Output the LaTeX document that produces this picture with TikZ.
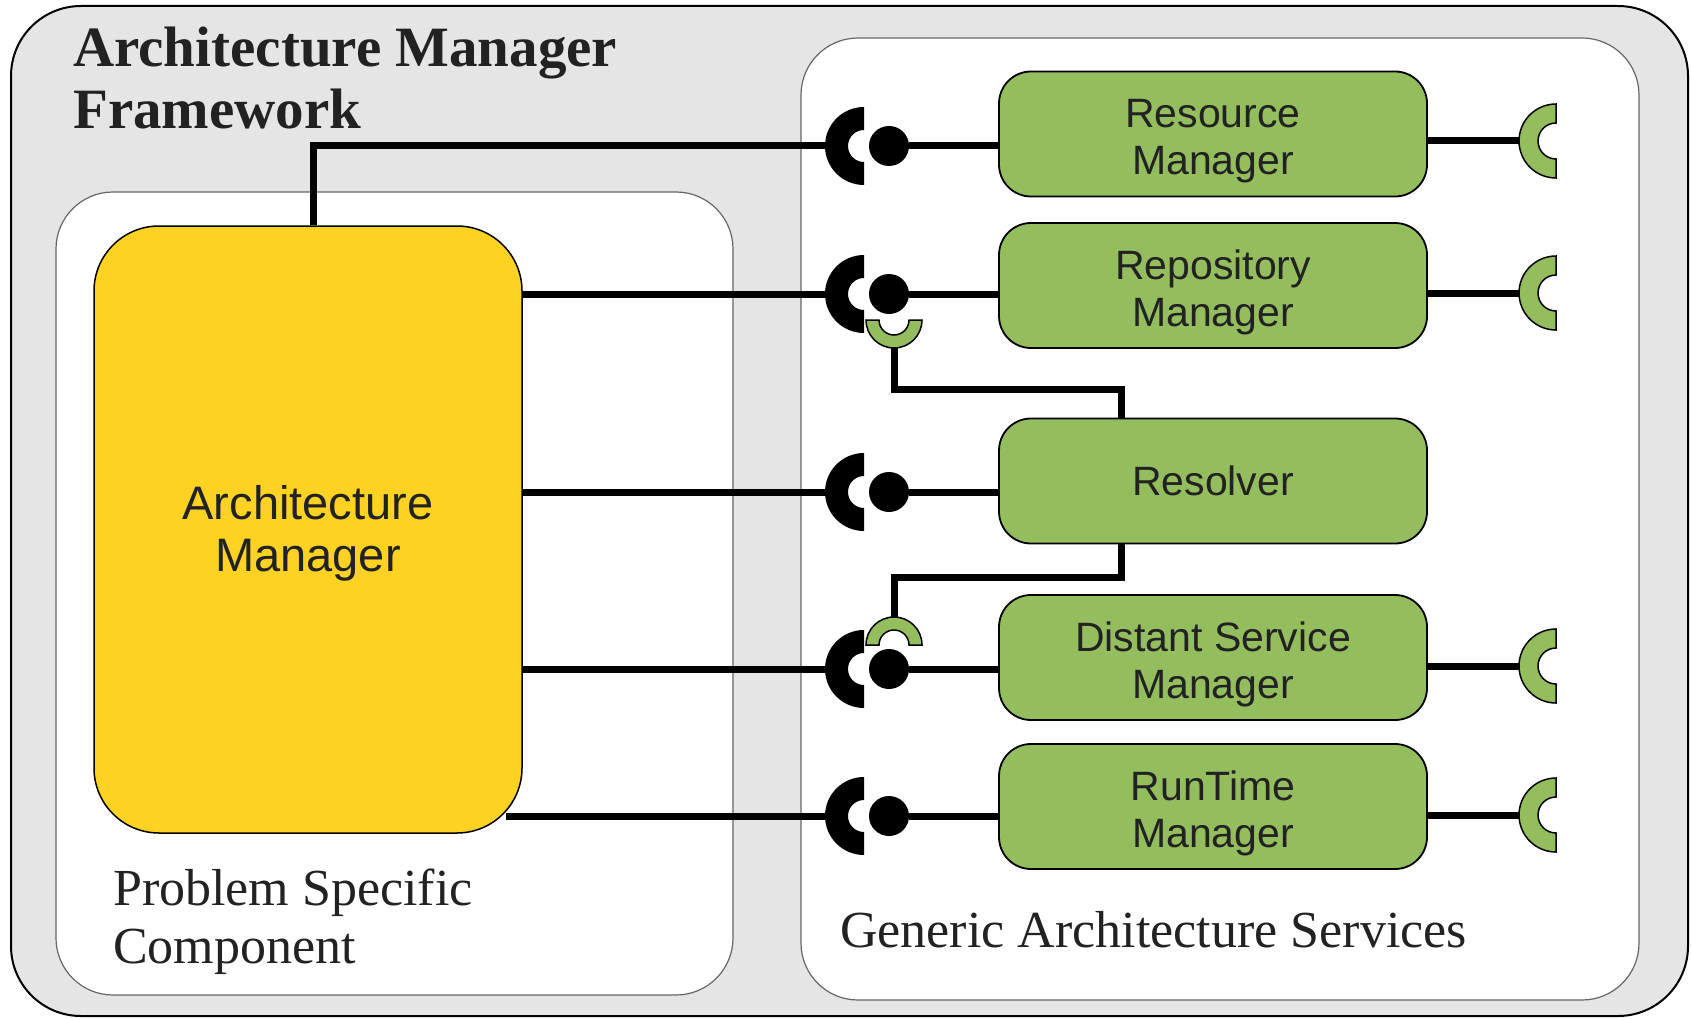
\documentclass[tikz,border=0pt]{standalone}
\usepackage{fontspec}
\setmainfont{Liberation Serif}
\setsansfont{Liberation Sans}
\definecolor{frame1}{RGB}{229, 229, 229}
\definecolor{yellow1}{RGB}{253, 210, 34}
\definecolor{green1}{RGB}{148, 190, 94}
\definecolor{ink1}{RGB}{34, 34, 34}
\usetikzlibrary{positioning, calc}

\tikzset{
  service/.style={draw=black, line width=1.8pt, fill=green1, rounded corners=32pt, minimum width=428pt, minimum height=125pt, inner sep=0pt, align=center, text=ink1, font=\sffamily\fontsize{41}{47}\selectfont},
  twoline/.style={text height=90pt},
  ball/.style={circle, fill=black, minimum size=40pt, inner sep=0pt},
  wire/.style={line width=7pt},
  panel/.style={draw=black!60, line width=1.2pt, fill=white, rounded corners=57pt},
  plug/.style={fill=green1, draw=black, line width=1.5pt},
}

\newcommand{\halfring}[5]{%
  \path[#1] ($(#2)+(#3:#4)$) arc[start angle=#3, delta angle=180, radius=#4]
    -- ($(#2)+(#3+180:#5)$) arc[start angle=#3+180, delta angle=-180, radius=#5] -- cycle;}

\begin{document}
\begin{tikzpicture}[x=1pt, y=1pt]
  \useasboundingbox (0,0) rectangle (1691,-1019);
  \draw[fill=frame1, line width=2pt, rounded corners=70pt] (11,-6) rectangle (1688,-1016);
  \node[anchor=base west, align=left, inner sep=0pt, text=ink1, font=\bfseries\fontsize{57}{62}\selectfont] (title) at (73,-129) {Architecture Manager\\Framework};

  \draw[panel] (56,-192) rectangle (733,-995);
  \draw[panel] (801,-38) rectangle (1639,-1000);
  \node[anchor=base west, align=left, inner sep=0pt, text=ink1, font=\fontsize{52}{58}\selectfont] (pscLabel) at (113,-963) {Problem Specific\\Component};
  \node[anchor=base west, inner sep=0pt, text=ink1, font=\fontsize{52}{57}\selectfont] (gasLabel) at (840,-947) {Generic Architecture Services};

  \node[draw=black, line width=1.5pt, fill=yellow1, rounded corners=65pt, minimum width=428pt, minimum height=607pt, inner sep=0pt, align=center, text=ink1, text height=94pt, font=\sffamily\fontsize{47}{52}\selectfont] (am) at (308,-529.5) {Architecture\\Manager};

  \node[service, twoline] (resMgr) at (1213,-134) {Resource\\Manager};
  \node[service, twoline] (repMgr) at (1213,-285.5) {Repository\\Manager};
  \node[service] (resolver) at (1213,-481) {Resolver};
  \node[service, twoline] (dsMgr) at (1213,-657.5) {Distant Service\\Manager};
  \node[service, twoline] (rtMgr) at (1213,-806.5) {RunTime\\Manager};

  \coordinate (sock1) at (864,-146);
  \coordinate (sock2) at (864,-294);
  \coordinate (sock3) at (864,-492);
  \coordinate (sock4) at (864,-669);
  \coordinate (sock5) at (864,-816);
  \coordinate (gsock1) at (1556,-141);
  \coordinate (gsock2) at (1556,-293);
  \coordinate (gsock4) at (1556,-666);
  \coordinate (gsock5) at (1556,-815);
  \coordinate (cupA) at (894,-320);
  \coordinate (cupB) at (894,-645);
  \coordinate (cupAfoot) at (894,-344);
  \coordinate (cupBfoot) at (894,-619);

  \node[ball] (ball1) at (889,-146) {};
  \node[ball] (ball2) at (889,-294) {};
  \node[ball] (ball3) at (889,-492) {};
  \node[ball] (ball4) at (889,-669) {};
  \node[ball] (ball5) at (889,-816) {};

  \draw[wire] ([xshift=5pt]am.north) |- ($(sock1)+(-30,0)$);
  \draw[wire] (am.east |- sock2) -- ($(sock2)+(-30,0)$);
  \draw[wire] (am.east |- sock3) -- ($(sock3)+(-30,0)$);
  \draw[wire] (am.east |- sock4) -- ($(sock4)+(-30,0)$);
  \draw[wire] ($(am.east |- sock5)+(-17,0)$) -- ($(sock5)+(-30,0)$);

  \draw[wire] (ball1) -- (resMgr.west |- ball1);
  \draw[wire] (ball2) -- (repMgr.west |- ball2);
  \draw[wire] (ball3) -- (resolver.west |- ball3);
  \draw[wire] (ball4) -- (dsMgr.west |- ball4);
  \draw[wire] (ball5) -- (rtMgr.west |- ball5);

  \draw[wire] (resMgr.east |- gsock1) -- ($(gsock1)+(-30,0)$);
  \draw[wire] (repMgr.east |- gsock2) -- ($(gsock2)+(-30,0)$);
  \draw[wire] (dsMgr.east |- gsock4) -- ($(gsock4)+(-30,0)$);
  \draw[wire] (rtMgr.east |- gsock5) -- ($(gsock5)+(-30,0)$);

  \draw[wire] (cupAfoot) -- ++(0,-45) -| ([xshift=-92pt]resolver.north);
  \draw[wire] (cupBfoot) -- ++(0,42) -| ([xshift=-92pt]resolver.south);

  \foreach \s in {sock1,sock2,sock3,sock4,sock5}
    \halfring{fill=black}{\s}{90}{39}{16};
  \foreach \s in {gsock1,gsock2,gsock4,gsock5}
    \halfring{plug}{\s}{90}{37}{18};
  \halfring{plug}{cupA}{180}{28}{15};
  \halfring{plug}{cupB}{0}{28}{15};
\end{tikzpicture}
\end{document}
